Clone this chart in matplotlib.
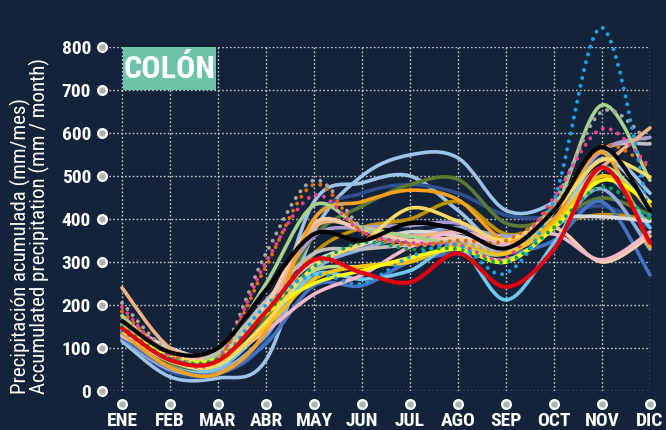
import numpy as np
import matplotlib
matplotlib.use('Agg')
import matplotlib.pyplot as plt
from matplotlib.path import Path
from matplotlib.patches import PathPatch, Rectangle
import matplotlib.transforms as mtransforms

# --- data (mm / month) ---
meses = ['ENE', 'FEB', 'MAR', 'ABR', 'MAY', 'JUN', 'JUL', 'AGO', 'SEP', 'OCT', 'NOV', 'DIC']
y_ticks = [0, 100, 200, 300, 400, 500, 600, 700, 800]
titulo = 'COLÓN'

celeste_1 = [116, 33, 30, 72, 370, 500, 549, 542, 420, 440, 555, 460]
celeste_2 = [130, 60, 50, 140, 440, 484, 500, 420, 330, 390, 540, 440]
marino = [125, 45, 40, 120, 400, 460, 480, 460, 409, 405, 430, 380]
olivo = [140, 65, 60, 170, 360, 430, 480, 492, 390, 400, 449, 410]
naranja = [135, 55, 40, 140, 400, 440, 467, 445, 350, 400, 556, 335]
durazno = [240, 100, 80, 190, 380, 380, 360, 370, 350, 400, 520, 612]
rosa = [128, 75, 70, 140, 225, 270, 335, 370, 344, 365, 305, 370]
salmon = [150, 85, 80, 200, 390, 375, 350, 355, 335, 380, 300, 360]
verde_claro = [175, 80, 85, 250, 432, 380, 360, 340, 320, 420, 665, 490]
verde_2 = [150, 75, 80, 190, 280, 290, 305, 330, 305, 380, 520, 420]
amarillo = [140, 70, 60, 160, 290, 345, 425, 395, 351, 420, 537, 498]
amarillo_2 = [150, 70, 65, 150, 260, 290, 300, 340, 320, 390, 500, 430]
amarillo_3 = [145, 80, 75, 180, 250, 280, 310, 330, 300, 380, 490, 440]
lavanda = [175, 85, 80, 200, 360, 380, 385, 390, 340, 430, 560, 590]
gris_claro = [165, 100, 85, 200, 300, 340, 370, 360, 340, 400, 405, 395]
gris = [155, 95, 90, 210, 320, 330, 340, 350, 330, 420, 560, 575]
dorado = [140, 75, 70, 160, 320, 380, 400, 440, 365, 390, 410, 400]
azul = [125, 55, 40, 110, 245, 245, 300, 320, 320, 350, 440, 270]
cielo = [130, 70, 55, 150, 270, 260, 280, 335, 212, 344, 500, 380]
acero = [120, 50, 45, 130, 280, 330, 360, 380, 360, 380, 470, 330]
negro = [163, 90, 100, 235, 365, 350, 390, 375, 332, 420, 567, 420]
rojo = [146, 72, 70, 184, 305, 275, 253, 320, 242, 330, 520, 345]

gris_punt = [205, 90, 80, 320, 490, 380, 340, 345, 330, 440, 650, 575]
naranja_punt = [185, 85, 75, 290, 480, 370, 340, 350, 350, 430, 570, 520]
rosa_punt = [195, 80, 75, 300, 455, 370, 345, 340, 310, 450, 610, 520]
azul_punt = [140, 75, 70, 200, 270, 250, 312, 339, 274, 444, 845, 400]
verde_punt = [150, 75, 75, 180, 290, 345, 330, 330, 300, 380, 475, 400]

# --- style ---
fondo = '#13233a'
fuente = ['Roboto Condensed', 'DejaVu Sans Condensed', 'Roboto', 'DejaVu Sans']

series = [
    (celeste_1, '#9dc3e6', '-'), (celeste_2, '#9dc3e6', '-'),
    (marino, '#2f4f8f', '-'), (olivo, '#5b7a34', '-'),
    (dorado, '#bf9000', '-'), (acero, '#8faadc', '-'),
    (azul, '#4472c4', '-'), (cielo, '#6fc8f2', '-'),
    (gris_claro, '#d9d9d9', '-'), (gris, '#bfbfbf', '-'),
    (lavanda, '#a99bd0', '-'), (durazno, '#f4b183', '-'),
    (salmon, '#f8cbad', '-'), (rosa, '#f4b6c8', '-'),
    (naranja, '#f7a01b', '-'), (verde_2, '#b4d98f', '-'),
    (verde_claro, '#a9d18e', '-'), (amarillo_2, '#ffc000', '-'),
    (amarillo_3, '#ffff00', '-'), (amarillo, '#ffd966', '-'),
    (gris_punt, '#a6a6a6', ':'), (naranja_punt, '#e46c0a', ':'),
    (rosa_punt, '#e8418d', ':'), (verde_punt, '#00a651', ':'),
    (azul_punt, '#1ba1e2', ':'),
    (negro, '#000000', '-'), (rojo, '#e3000f', '-'),
]


def curva(ax, ys, color, estilo):
    # smooth line through the monthly values (Catmull-Rom as cubic Bezier)
    pts = np.column_stack([np.arange(len(ys)), ys]).astype(float)
    n = len(pts)
    verts = [pts[0]]
    codes = [Path.MOVETO]
    for i in range(n - 1):
        p0 = pts[i - 1] if i > 0 else pts[i]
        p1, p2 = pts[i], pts[i + 1]
        p3 = pts[i + 2] if i + 2 < n else pts[i + 1]
        verts += [p1 + (p2 - p0) / 6, p2 - (p3 - p1) / 6, p2]
        codes += [Path.CURVE4] * 3
    if estilo == ':':
        patch = PathPatch(Path(verts, codes), fill=False, edgecolor=color,
                          lw=2.9, linestyle=(0, (0.01, 2.0)), clip_on=False)
    else:
        lw = 3.0 if color in ('#000000', '#e3000f') else 2.6
        patch = PathPatch(Path(verts, codes), fill=False, edgecolor=color,
                          lw=lw, clip_on=False)
    patch.set_capstyle('round')
    patch.set_joinstyle('round')
    ax.add_patch(patch)


fig = plt.figure(figsize=(6.66, 4.30), dpi=100, facecolor=fondo)
ax = fig.add_axes([105 / 666, 39 / 430, 545 / 666, 344 / 430])
ax.set_facecolor(fondo)
ax.set_xlim(-0.354, 11)
ax.set_ylim(0, 800)
for s in ax.spines.values():
    s.set_visible(False)

# grid
for v in y_ticks:
    ax.axhline(v, color='#c8c8c8', lw=1.0, ls=(0, (1.2, 1.6)), zorder=1)
for i in range(len(meses)):
    ax.plot([i, i], [0, 800], color='#c8c8c8', lw=1.0, ls=(0, (1.2, 1.6)), zorder=1)

for ys, color, estilo in series:
    curva(ax, ys, color, estilo)

# tick circles
ty = mtransforms.blended_transform_factory(ax.transAxes, ax.transData)
tx = mtransforms.blended_transform_factory(ax.transData, ax.transAxes)
ax.scatter([-3 / 545] * len(y_ticks), y_ticks, transform=ty, s=40,
           facecolor='#b0b0b0', edgecolor='white', lw=1.6, clip_on=False, zorder=5)
ax.scatter(range(len(meses)), [-13 / 344] * len(meses), transform=tx, s=40,
           facecolor='#b0b0b0', edgecolor='white', lw=1.6, clip_on=False, zorder=5)

ax.set_xticks(range(len(meses)))
ax.set_xticklabels(meses)
ax.set_yticks(y_ticks)
ax.tick_params(length=0, colors='white')
ax.tick_params(axis='x', pad=15)
ax.tick_params(axis='y', pad=10)
for lab in ax.get_xticklabels() + ax.get_yticklabels():
    lab.set_family(fuente)
    lab.set_fontweight('bold')
    lab.set_fontsize(14)
    lab.set_color('white')

# title box
ax.add_patch(Rectangle((0.02, 700), 1.94, 100, facecolor='#6cc2aa', edgecolor='none', zorder=6))
ax.text(0.99, 750, titulo, ha='center', va='center', color='white', fontsize=23,
        fontweight='bold', family=fuente, zorder=7)

# y label
fig.text(20 / 666, 36 / 430, 'Precipitación acumulada (mm/mes)', rotation=90,
         ha='center', va='bottom', color='white', fontsize=15, family=fuente)
fig.text(39 / 666, 36 / 430, 'Accumulated precipitation (mm / month)', rotation=90,
         ha='center', va='bottom', color='white', fontsize=15, family=fuente)

fig.savefig('out.png', dpi=100, facecolor=fondo)
